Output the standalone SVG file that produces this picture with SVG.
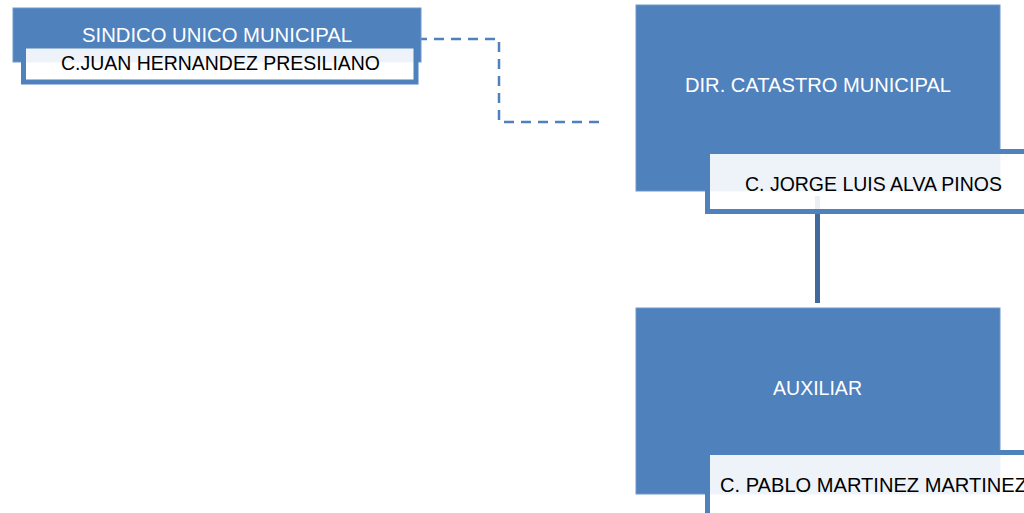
<svg xmlns="http://www.w3.org/2000/svg" width="1024" height="513" viewBox="0 0 1024 513">
<style>
.box{fill:#4f81bd;stroke:#6f97c9;stroke-width:1}
.sub{fill:#ffffff;fill-opacity:0.9;stroke:#4f81bd;stroke-width:5}
.t{font-family:"Liberation Sans",Arial,sans-serif;font-size:21px}
.w{fill:#ffffff}
.k{fill:#000000}
.dash{fill:none;stroke:#4f81bd;stroke-width:2.5;stroke-dasharray:10 7}
.solid{fill:none;stroke:#41699b;stroke-width:5}
</style>
<rect width="1024" height="513" fill="#ffffff"/>
<g id="connectors">
<path class="dash" d="M400,39 H499 V122 H599"/>
<path class="solid" d="M817.5,196 V303"/>
</g>
<g id="sindico">
<rect class="box" x="13" y="8" width="408" height="54"/>
<rect class="sub" x="23.5" y="46" width="392.5" height="36"/>
<text class="t w" x="82" y="42" textLength="270" lengthAdjust="spacingAndGlyphs">SINDICO UNICO MUNICIPAL</text>
<text class="t k" x="61" y="70" textLength="319" lengthAdjust="spacingAndGlyphs">C.JUAN HERNANDEZ PRESILIANO</text>
</g>
<g id="catastro">
<rect class="box" x="636" y="5" width="364" height="186"/>
<rect class="sub" x="707.5" y="151.5" width="330" height="60"/>
<text class="t w" x="685" y="92" textLength="266" lengthAdjust="spacingAndGlyphs">DIR. CATASTRO MUNICIPAL</text>
<text class="t k" x="745" y="191" textLength="257" lengthAdjust="spacingAndGlyphs">C. JORGE LUIS ALVA PINOS</text>
</g>
<g id="auxiliar">
<rect class="box" x="636" y="308" width="364" height="186"/>
<rect class="sub" x="707.5" y="452.5" width="330" height="80"/>
<text class="t w" x="773" y="395" textLength="89" lengthAdjust="spacingAndGlyphs">AUXILIAR</text>
<text class="t k" x="720" y="492" textLength="307" lengthAdjust="spacingAndGlyphs">C. PABLO MARTINEZ MARTINEZ</text>
</g>
</svg>
